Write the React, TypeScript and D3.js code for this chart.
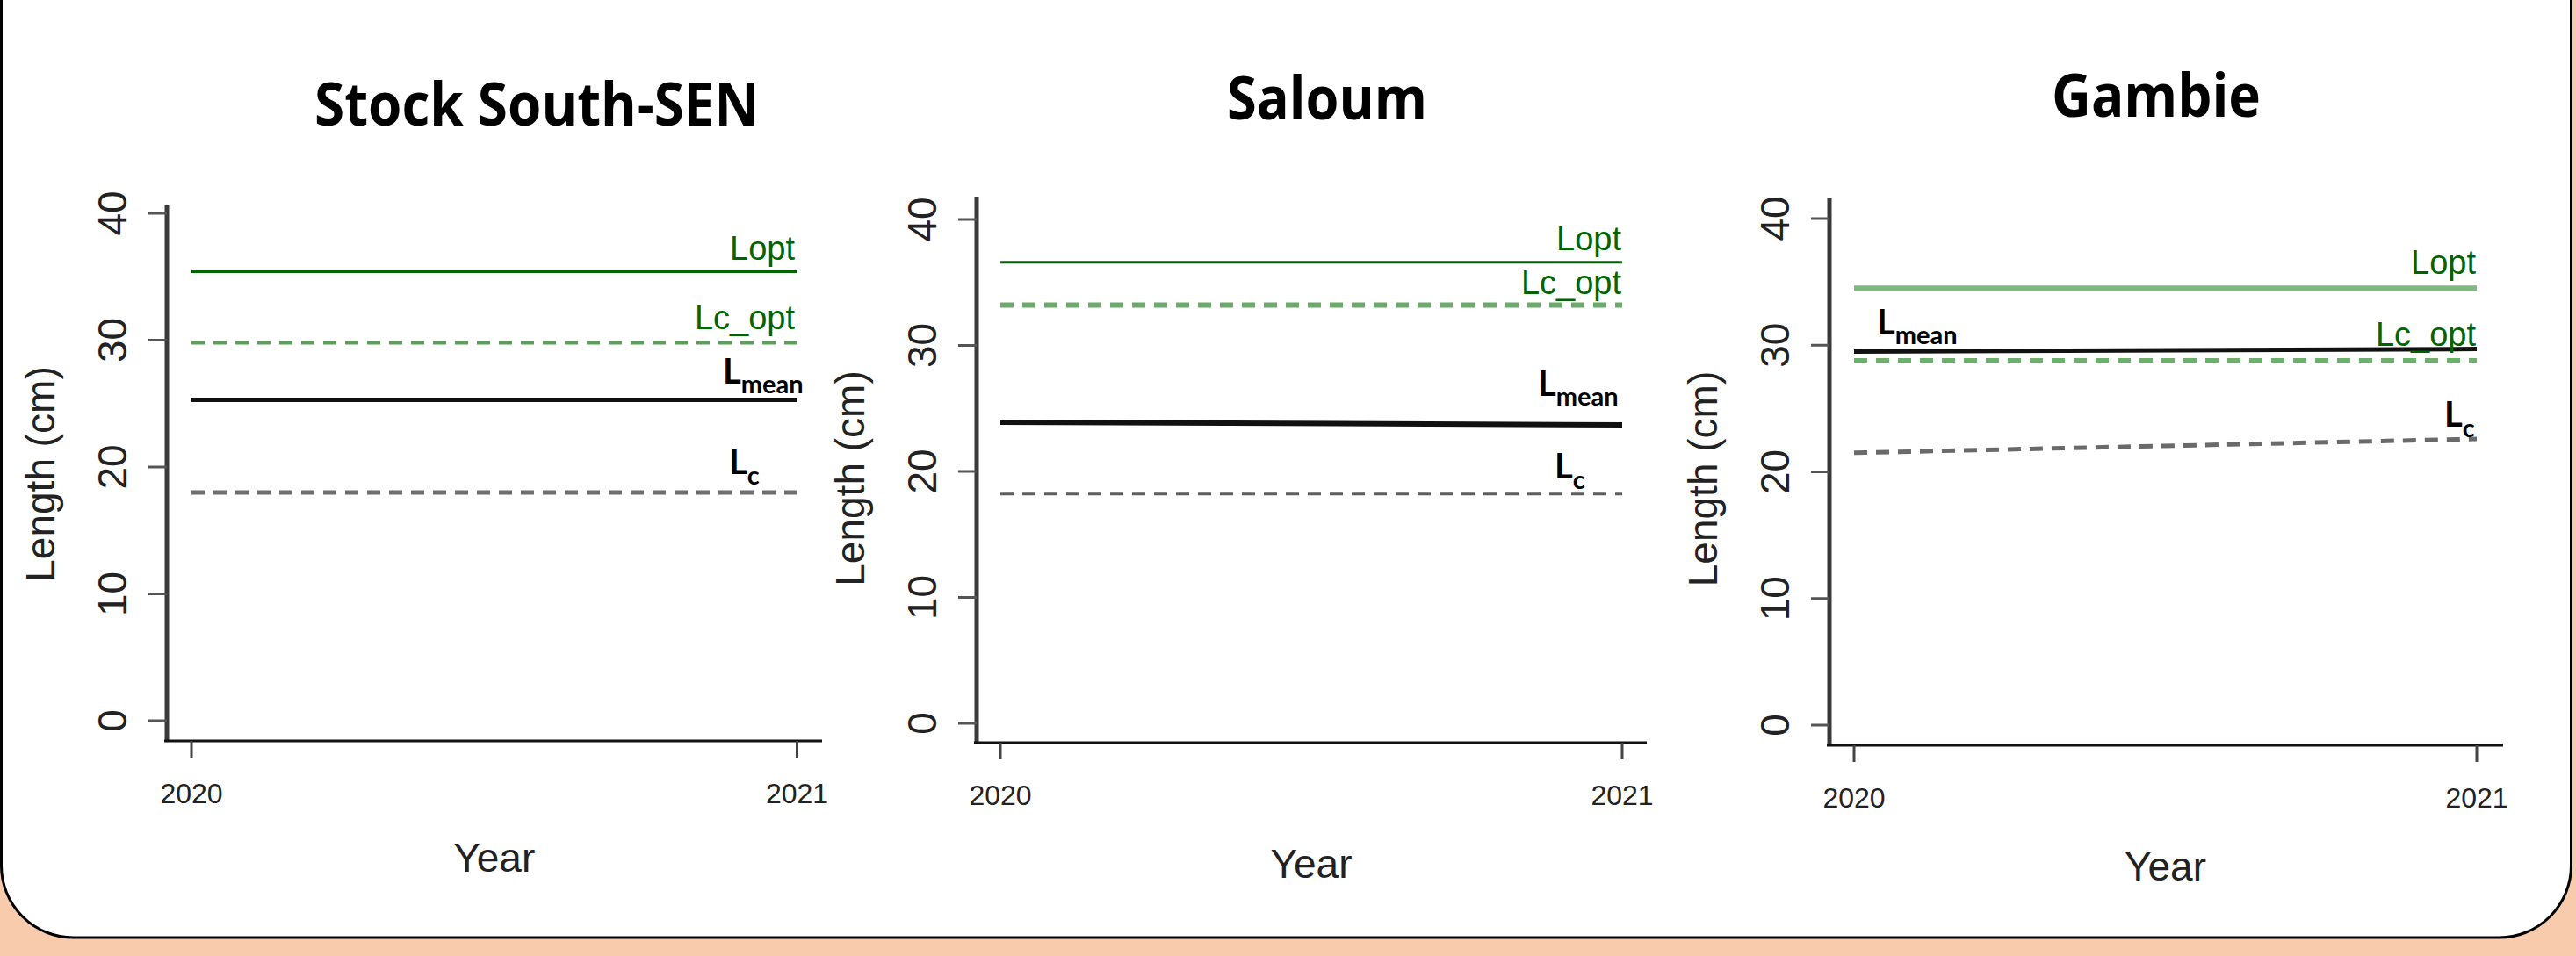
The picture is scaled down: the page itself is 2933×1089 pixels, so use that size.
import React from "react";
import * as d3 from "d3";

// ---------- data ----------
const panelTitles = ["Stock South-SEN", "Saloum", "Gambie"];
const years = [2020, 2021];
const yTicks = [0, 10, 20, 30, 40];
const loptValues = [35.4, 36.6, 34.5];
const lcOptValues = [29.8, 33.2, 28.8];
const lmeanSeries = [
  [25.3, 25.3],
  [23.9, 23.7],
  [29.5, 29.7],
];
const lcSeries = [
  [18.0, 18.0],
  [18.2, 18.2],
  [21.5, 22.6],
];

// ---------- layout (pixels) ----------
const W = 2933;
const H = 1089;
const layouts = [
  {
    axisX: 190, axisY: 844, y0: 821, y40: 243, x0: 218, x1: 907.5, xEnd: 936, yTop: 234,
    title: { x: 611, y: 143, w: 506 }, year: { y: 993 },
    lopt: { x: 905, y: 296 }, lcopt: { x: 905, y: 375 },
    lmeanLab: { x: 823, y: 437 }, lcLab: { x: 830, y: 540 },
    loptStyle: { c: "#006400", w: 3 }, lcoptStyle: { c: "#5aa05a", w: 4 },
    lmeanW: 5, lcStyle: { c: "#6e6e6e", w: 5 },
  },
  {
    axisX: 1112, axisY: 846, y0: 824, y40: 250, x0: 1139, x1: 1847, xEnd: 1875, yTop: 224,
    title: { x: 1511, y: 136, w: 228 }, year: { y: 1000 },
    lopt: { x: 1846, y: 285 }, lcopt: { x: 1846, y: 335 },
    lmeanLab: { x: 1751, y: 451 }, lcLab: { x: 1770, y: 545 },
    loptStyle: { c: "#006400", w: 3 }, lcoptStyle: { c: "#6aaa6a", w: 6 },
    lmeanW: 6, lcStyle: { c: "#5e5e5e", w: 3 },
  },
  {
    axisX: 2083, axisY: 849, y0: 826, y40: 249, x0: 2111, x1: 2820, xEnd: 2850, yTop: 226,
    title: { x: 2455, y: 133, w: 238 }, year: { y: 1003 },
    lopt: { x: 2819, y: 312 }, lcopt: { x: 2819, y: 394 },
    lmeanLab: { x: 2137, y: 381 }, lcLab: { x: 2783, y: 486 },
    loptStyle: { c: "#80b880", w: 6 }, lcoptStyle: { c: "#6db06d", w: 5 },
    lmeanW: 5, lcStyle: { c: "#6a6a6a", w: 5 },
  },
];

const SANS = "'Liberation Sans', Arial, sans-serif";
const TITLE = "'Open Sans', Lato, sans-serif";
const BOLD = "Lato, 'Open Sans', sans-serif";

function Panel({ i }: { i: number }) {
  const L = layouts[i];
  const y = d3.scaleLinear().domain([0, 40]).range([L.y0, L.y40]);
  const x = d3.scaleLinear().domain([years[0], years[1]]).range([L.x0, L.x1]);
  const line = d3
    .line<number>()
    .x((_, k) => x(years[k]))
    .y((v) => y(v));
  const flat = (v: number) => line([v, v]) as string;
  const dash = "15 10";
  return (
    <g>
      {/* title */}
      <text
        x={L.title.x}
        y={L.title.y}
        textAnchor="middle"
        fontFamily={TITLE}
        fontWeight={700}
        fontSize={68}
        textLength={L.title.w}
        lengthAdjust="spacingAndGlyphs"
        fill="#000"
      >
        {panelTitles[i]}
      </text>

      {/* reference lines */}
      <path d={flat(loptValues[i])} stroke={L.loptStyle.c} strokeWidth={L.loptStyle.w} fill="none" />
      <path
        d={flat(lcOptValues[i])}
        stroke={L.lcoptStyle.c}
        strokeWidth={L.lcoptStyle.w}
        strokeDasharray={dash}
        fill="none"
      />
      <path d={line(lmeanSeries[i]) as string} stroke="#111" strokeWidth={L.lmeanW} fill="none" />
      <path
        d={line(lcSeries[i]) as string}
        stroke={L.lcStyle.c}
        strokeWidth={L.lcStyle.w}
        strokeDasharray={dash}
        fill="none"
      />

      {/* axes */}
      <line x1={L.axisX} x2={L.axisX} y1={L.yTop} y2={L.axisY} stroke="#3a3a3a" strokeWidth={5} />
      <line x1={L.axisX - 3} x2={L.xEnd} y1={L.axisY} y2={L.axisY} stroke="#111" strokeWidth={3} />
      {yTicks.map((t) => (
        <g key={t}>
          <line x1={L.axisX - 21} x2={L.axisX} y1={y(t)} y2={y(t)} stroke="#555" strokeWidth={3} />
          <text
            transform={`translate(${L.axisX - 46},${y(t)}) rotate(-90)`}
            textAnchor="middle"
            fontFamily={SANS}
            fontSize={46}
            fill="#222"
          >
            {t}
          </text>
        </g>
      ))}
      {years.map((yr) => (
        <g key={yr}>
          <line x1={x(yr)} x2={x(yr)} y1={L.axisY} y2={L.axisY + 19} stroke="#444" strokeWidth={3} />
          <text
            x={x(yr)}
            y={L.axisY + 71}
            textAnchor="middle"
            fontFamily={SANS}
            fontSize={32}
            fill="#222"
          >
            {yr}
          </text>
        </g>
      ))}
      <text
        x={(x(years[0]) + x(years[1])) / 2}
        y={L.year.y}
        textAnchor="middle"
        fontFamily={SANS}
        fontSize={46}
        fill="#222"
      >
        Year
      </text>
      <text
        transform={`translate(${L.axisX - 128},${(y(0) + y(40)) / 2 + 8}) rotate(-90)`}
        textAnchor="middle"
        fontFamily={SANS}
        fontSize={46}
        fill="#222"
      >
        Length (cm)
      </text>

      {/* labels */}
      <text x={L.lopt.x} y={L.lopt.y} textAnchor="end" fontFamily={SANS} fontSize={38} fill="#006400">
        Lopt
      </text>
      <text x={L.lcopt.x} y={L.lcopt.y} textAnchor="end" fontFamily={SANS} fontSize={38} fill="#006400">
        Lc_opt
      </text>
      <text x={L.lmeanLab.x} y={L.lmeanLab.y} fontFamily={BOLD} fontWeight={700} fontSize={40} fill="#000">
        L
        <tspan fontSize={29} dy={11}>
          mean
        </tspan>
      </text>
      <text x={L.lcLab.x} y={L.lcLab.y} fontFamily={BOLD} fontWeight={700} fontSize={40} fill="#000">
        L
        <tspan fontSize={29} dy={12}>
          c
        </tspan>
      </text>
    </g>
  );
}

export default function App() {
  return (
    <svg
      width={W}
      height={H}
      viewBox={`0 0 ${W} ${H}`}
      style={{ position: "absolute", left: 0, top: 0, display: "block" }}
    >
      <rect x={0} y={0} width={W} height={H} fill="#F8CBAD" />
      <rect x={1.5} y={-200} width={2926} height={1268} rx={82} ry={82} fill="#fff" stroke="#000" strokeWidth={3} />
      {panelTitles.map((_, i) => (
        <Panel key={i} i={i} />
      ))}
    </svg>
  );
}
